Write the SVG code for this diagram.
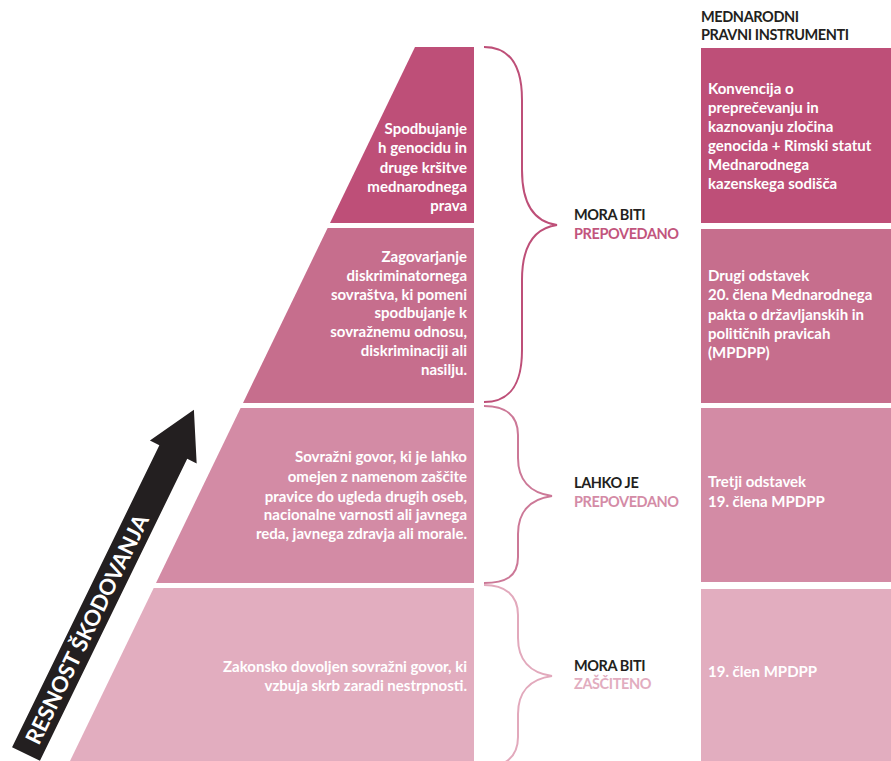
<svg xmlns="http://www.w3.org/2000/svg" width="891" height="761" viewBox="0 0 891 761">
<style>
text{font-family:Lato,"Open Sans","Liberation Sans",sans-serif;font-weight:bold;font-size:15px}
.w{fill:#ffffff}
.r{text-anchor:end}
.k{fill:#231f20}
.cap{font-size:14.5px;letter-spacing:-0.4px}
.brace{fill:none;stroke-width:2}
</style>
<rect width="891" height="761" fill="#ffffff"/>
<g id="arrow">
<g transform="translate(26,754) rotate(-64)">
<polygon points="0,-15.5 336,-15.5 336,-26 383,0 336,26 336,15.5 0,15.5" fill="#231f20"/>
<text x="139" y="8" class="w" style="font-size:22px;text-anchor:middle">RESNOST ŠKODOVANJA</text>
</g>
</g>
<g id="band1">
<polygon points="415,47 474,47 474,223 330,223" fill="#be4f78"/>
<text class="w r"><tspan x="467" y="134">Spodbujanje</tspan><tspan x="467" y="153">h genocidu in</tspan><tspan x="467" y="173">druge kršitve</tspan><tspan x="467" y="192">mednarodnega</tspan><tspan x="467" y="211">prava</tspan></text>
</g>
<g id="band2">
<polygon points="327.6,228 474,228 474,403 243,403" fill="#c66e8d"/>
<text class="w r"><tspan x="467" y="262">Zagovarjanje</tspan><tspan x="467" y="281">diskriminatornega</tspan><tspan x="467" y="300">sovraštva, ki pomeni</tspan><tspan x="467" y="318">spodbujanje k</tspan><tspan x="467" y="337">sovražnemu odnosu,</tspan><tspan x="467" y="356">diskriminaciji ali</tspan><tspan x="467" y="375">nasilju.</tspan></text>
</g>
<g id="band3">
<polygon points="240.6,408 474,408 474,583 156,583" fill="#d38ba5"/>
<text class="w r"><tspan x="467" y="462">Sovražni govor, ki je lahko</tspan><tspan x="467" y="482">omejen z namenom zaščite</tspan><tspan x="467" y="502">pravice do ugleda drugih oseb,</tspan><tspan x="467" y="520">nacionalne varnosti ali javnega</tspan><tspan x="467" y="539">reda, javnega zdravja ali morale.</tspan></text>
</g>
<g id="band4">
<polygon points="153.7,588 474,588 474,761 70,761" fill="#e2adbf"/>
<text class="w r"><tspan x="467" y="672">Zakonsko dovoljen sovražni govor, ki</tspan><tspan x="467" y="691">vzbuja skrb zaradi nestrpnosti.</tspan></text>
</g>
<g id="connectors">
<path class="brace" stroke="#be4f78" d="M484,47 C510,47 522,65 522,100 L522,170 C522,205 535,222 557,225 C535,228 522,245 522,280 L522,350 C522,385 510,402 484,402"/>
<path class="brace" stroke="#cc7897" d="M484,406 C505,406 518,415 518,435 L518,458 C518,480 530,493 552,496 C530,499 518,512 518,534 L518,557 C518,577 505,583 484,583"/>
<path class="brace" stroke="#e2a9bc" d="M484,585 C505,585 518,595 518,615 L518,638 C518,660 530,673 552,676 C530,679 518,692 518,714 L518,737 C518,757 505,767 484,767"/>
</g>
<g id="label1">
<text x="574" y="220" class="k cap">MORA BITI</text>
<text x="574" y="239" class="cap" fill="#c2557d">PREPOVEDANO</text>
</g>
<g id="label2">
<text x="574" y="488" class="k cap">LAHKO JE</text>
<text x="574" y="507" class="cap" fill="#d48ba6">PREPOVEDANO</text>
</g>
<g id="label3">
<text x="574" y="671" class="k cap">MORA BITI</text>
<text x="574" y="689" class="cap" fill="#e2adbf">ZAŠČITENO</text>
</g>
<g id="header">
<text class="k cap"><tspan x="701" y="22">MEDNARODNI</tspan><tspan x="701" y="40">PRAVNI INSTRUMENTI</tspan></text>
</g>
<g id="box1">
<rect x="701" y="48" width="190" height="175" fill="#be4f78"/>
<text class="w"><tspan x="708" y="94">Konvencija o</tspan><tspan x="708" y="113">preprečevanju in</tspan><tspan x="708" y="132">kaznovanju zločina</tspan><tspan x="708" y="151">genocida + Rimski statut</tspan><tspan x="708" y="170">Mednarodnega</tspan><tspan x="708" y="189">kazenskega sodišča</tspan></text>
</g>
<g id="box2">
<rect x="701" y="229" width="190" height="174" fill="#c66e8d"/>
<text class="w"><tspan x="708" y="281">Drugi odstavek</tspan><tspan x="708" y="300">20. člena Mednarodnega</tspan><tspan x="708" y="320">pakta o državljanskih in</tspan><tspan x="708" y="339">političnih pravicah</tspan><tspan x="708" y="358">(MPDPP)</tspan></text>
</g>
<g id="box3">
<rect x="701" y="408" width="190" height="174" fill="#d38ba5"/>
<text class="w"><tspan x="708" y="487">Tretji odstavek</tspan><tspan x="708" y="507">19. člena MPDPP</tspan></text>
</g>
<g id="box4">
<rect x="701" y="589" width="190" height="172" fill="#e2adbf"/>
<text x="708" y="677" class="w">19. člen MPDPP</text>
</g>
</svg>
